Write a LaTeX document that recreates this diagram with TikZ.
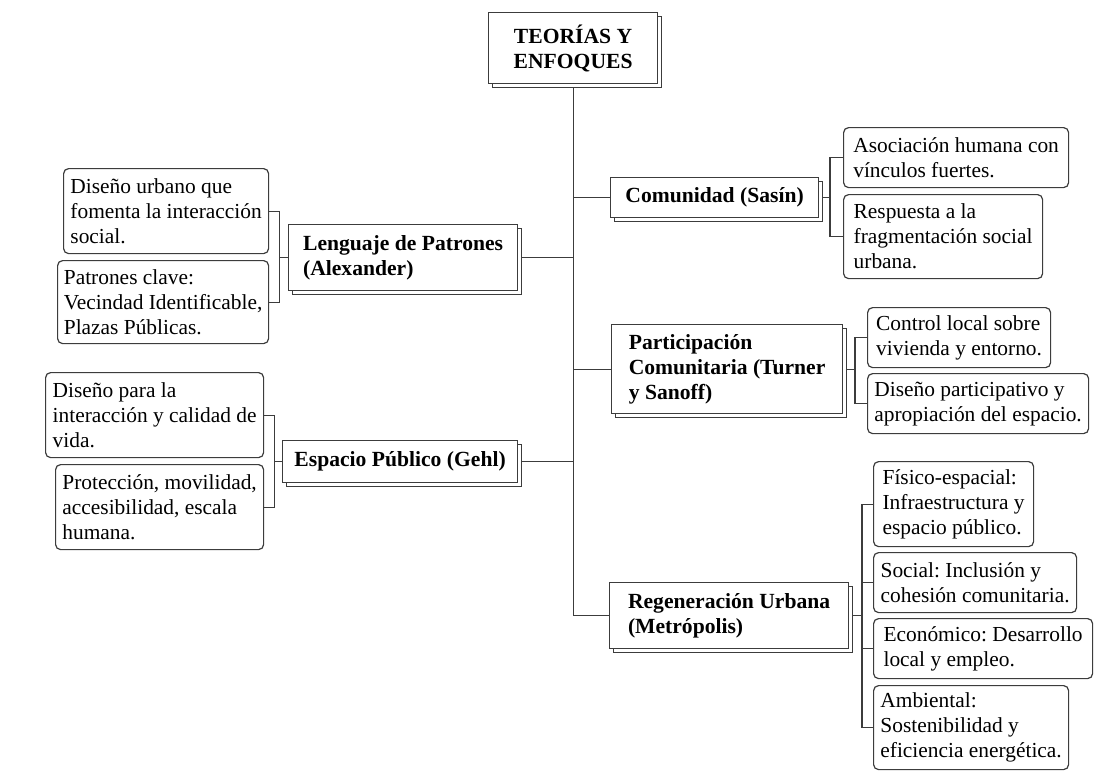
\documentclass[tikz,border=0pt]{standalone}
\usepackage{fontspec}
\setmainfont{Liberation Serif}
\usetikzlibrary{shadows,backgrounds}
\definecolor{linec}{HTML}{3C3C3C}
\frenchspacing
\tikzset{
  base/.style={anchor=north west, draw=linec, line width=0.6pt, fill=white,
    inner xsep=2pt, inner ysep=1pt, text=black},
  leaf/.style={base, rounded corners=2.5pt, align=left,
    font=\fontsize{10.7}{12.5}\selectfont\frenchspacing},
  shadowed/.style={base, font=\fontsize{10.8}{12.5}\selectfont\bfseries\frenchspacing,
    copy shadow={shadow xshift=2pt, shadow yshift=-2pt, draw=linec, fill=white, line width=0.6pt}},
  branch/.style={shadowed, align=left},
  rootbox/.style={shadowed, align=center},
  conn/.style={draw=linec, line width=0.6pt}
}
\begin{document}
\begin{tikzpicture}[x=0.5pt, y=-0.5pt]
\useasboundingbox (0,0) rectangle (1120,773);

% root
\node[rootbox, minimum width=84.5pt, minimum height=35.5pt] (root) at (488,12) {TEORÍAS Y\\ENFOQUES};

% branches
\node[branch, minimum width=104pt, minimum height=20pt] (com) at (610,177) {Comunidad (Sasín)};
\node[branch, minimum width=114.5pt, minimum height=33pt] (len) at (288,224) {Lenguaje de Patrones\\(Alexander)};
\node[branch, minimum width=115.5pt, minimum height=44.5pt] (par) at (611,324) {Participación\\Comunitaria (Turner\\y Sanoff)};
\node[branch, minimum width=117.5pt, minimum height=21pt] (esp) at (282,440) {Espacio Público (Gehl)};
\node[branch, minimum width=119.5pt, minimum height=33pt] (reg) at (609,582) {Regeneración Urbana\\(Metrópolis)};

% leaves
\node[leaf, minimum width=112.5pt, minimum height=30pt] (c1) at (843,127) {Asociación humana con\\vínculos fuertes.};
\node[leaf, minimum width=99.5pt, minimum height=42pt] (c2) at (843,194) {Respuesta a la\\fragmentación social\\urbana.};
\node[leaf, minimum width=102.5pt, minimum height=42.5pt] (l1) at (63,168) {Diseño urbano que\\fomenta la interacción\\social.};
\node[leaf, minimum width=105.5pt, minimum height=41.5pt] (l2) at (57,260) {Patrones clave:\\Vecindad Identificable,\\Plazas Públicas.};
\node[leaf, minimum width=91.5pt, minimum height=30pt] (p1) at (867,307) {Control local sobre\\vivienda y entorno.};
\node[leaf, minimum width=110.5pt, minimum height=30pt] (p2) at (867,373) {Diseño participativo y\\apropiación del espacio.};
\node[leaf, minimum width=109pt, minimum height=42.5pt] (e1) at (45,372) {Diseño para la\\interacción y calidad de\\vida.};
\node[leaf, minimum width=104pt, minimum height=42.5pt] (e2) at (55,464) {Protección, movilidad,\\accesibilidad, escala\\humana.};
\node[leaf, minimum width=80pt, minimum height=42.5pt] (r1) at (873,461) {Físico-espacial:\\Infraestructura y\\espacio público.};
\node[leaf, minimum width=101.5pt, minimum height=30pt] (r2) at (873,552) {Social: Inclusión y\\cohesión comunitaria.};
\node[leaf, minimum width=109.5pt, minimum height=30pt] (r3) at (873,618) {Económico: Desarrollo\\local y empleo.};
\node[leaf, minimum width=97.5pt, minimum height=42pt] (r4) at (873,685) {Ambiental:\\Sostenibilidad y\\eficiencia energética.};

\begin{pgfonlayer}{background}
  % trunk and branches
  \draw[conn] (root.south) |- (com.west);
  \draw[conn] (root.south) |- (len.east);
  \draw[conn] (root.south) |- (par.west);
  \draw[conn] (root.south) |- (esp.east);
  \draw[conn] (root.south) |- (reg.west);
  % leaf brackets
  \draw[conn] (c1.west) -- ++(-13,0) |- (com.east);
  \draw[conn] (c2.west) -- ++(-13,0) |- (com.east);
  \draw[conn] (l1.east) -- ++(10,0) |- (len.west);
  \draw[conn] (l2.east) -- ++(10,0) |- (len.west);
  \draw[conn] (p1.west) -- ++(-12,0) |- (par.east);
  \draw[conn] (p2.west) -- ++(-12,0) |- (par.east);
  \draw[conn] (e1.east) -- ++(10,0) |- (esp.west);
  \draw[conn] (e2.east) -- ++(10,0) |- (esp.west);
  \draw[conn] (r1.west) -- ++(-11,0) |- (reg.east);
  \draw[conn] (r2.west) -- ++(-11,0) |- (reg.east);
  \draw[conn] (r3.west) -- ++(-11,0) |- (reg.east);
  \draw[conn] (r4.west) -- ++(-11,0) |- (reg.east);
\end{pgfonlayer}
\end{tikzpicture}
\end{document}
